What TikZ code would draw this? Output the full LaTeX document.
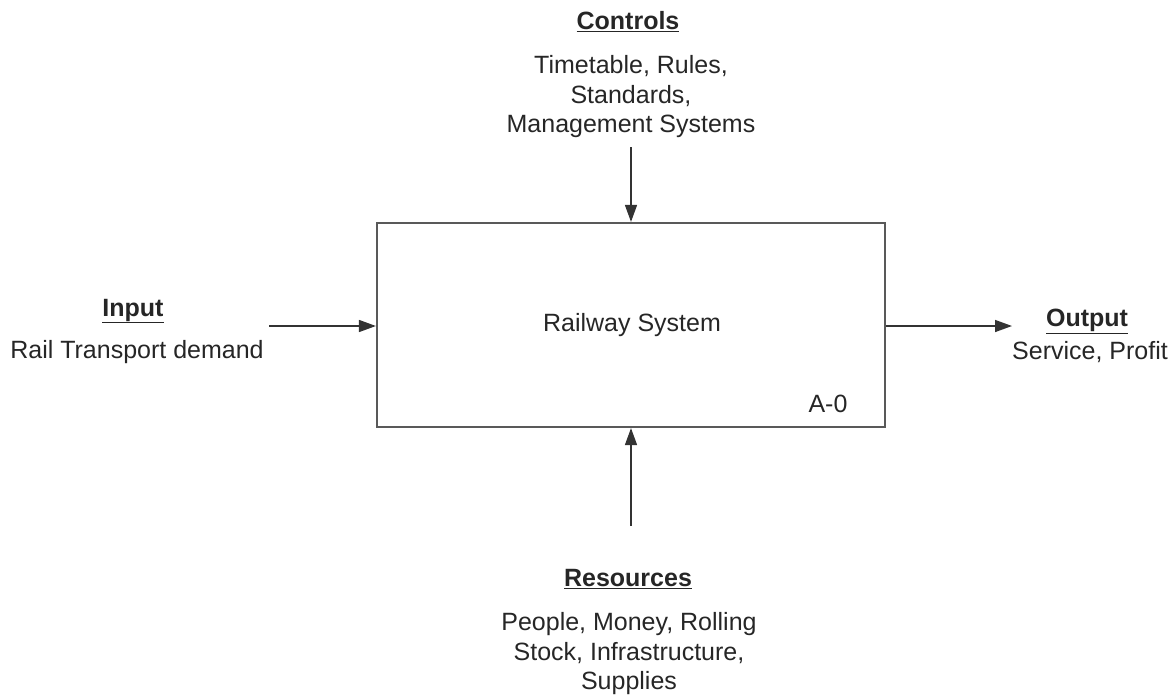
\documentclass[tikz,border=0pt]{standalone}
\usepackage{fontspec}
\setmainfont{Liberation Sans}
\usetikzlibrary{arrows.meta}
\begin{document}
\begin{tikzpicture}[x=1pt,y=-1pt,
  txt/.style={align=center,inner sep=0pt,font=\fontsize{25}{29.5}\selectfont,text=black!85},
  head/.style={txt,font=\fontsize{25}{29.5}\selectfont\bfseries},
  flow/.style={draw=black!80,line width=1.5pt,-{Triangle[length=17pt,width=12pt]}},
  sysbox/.style={draw=black!65,line width=2.2pt,minimum width=508pt,minimum height=204pt,inner sep=0pt}]
\useasboundingbox (0,0) rectangle (1176,699);
\node[sysbox] (box) at (631,325) {};
\node[txt] (sys) at (632,325) {Railway System};
\node[txt] (code) at (828,404) {A-0};
% controls
\node[head] (ctl) at (628,22) {\underline{Controls}};
\node[txt] (ctltext) at (631,97) {Timetable, Rules,\\Standards,\\Management Systems};
\coordinate (ctlstart) at (631,147);
\draw[flow] (ctlstart) -- (box.north);
% input
\node[head] (inp) at (133,311) {\underline{Input}};
\node[txt] (inptext) at (137,352) {Rail Transport demand};
\coordinate (inpstart) at (269,326);
\draw[flow] (inpstart) -- (box.west |- inpstart);
% output
\node[head] (out) at (1087,321) {\underline{Output}};
\node[txt] (outtext) at (1090,352) {Service, Profit};
\coordinate (outend) at (1012,326);
\draw[flow] (box.east |- outend) -- (outend);
% resources
\node[head] (res) at (628,579) {\underline{Resources}};
\node[txt] (restext) at (629,654) {People, Money, Rolling\\Stock, Infrastructure,\\Supplies};
\coordinate (resstart) at (631,526);
\draw[flow] (resstart) -- (box.south);
\end{tikzpicture}
\end{document}
